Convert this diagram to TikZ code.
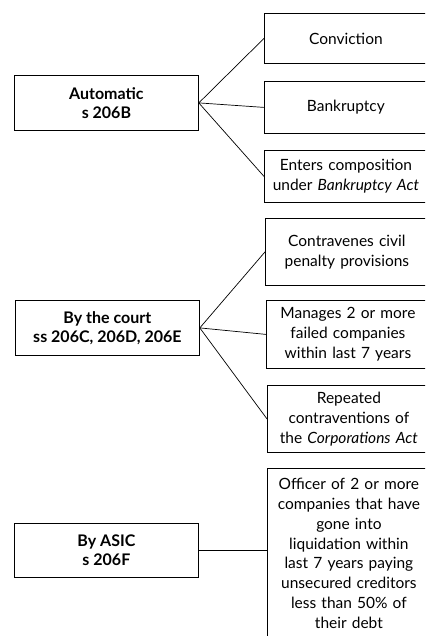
\documentclass[tikz,border=0pt]{standalone}
\usepackage{fontspec}
\setmainfont{Lato}

\tikzset{
  ground/.style={draw, line width=0.8pt, font=\bfseries\fontsize{16}{19}\selectfont, align=center, minimum width=184pt, minimum height=55pt, anchor=north west, inner sep=0pt},
  reason/.style={draw, line width=0.8pt, font=\fontsize{15.5}{19.8}\selectfont, align=center, text width=157pt, inner xsep=3pt, inner ysep=0pt, anchor=north west},
  link/.style={line width=0.7pt}
}

\begin{document}
\begin{tikzpicture}[x=1pt,y=-1pt]
\path[use as bounding box] (0,0) rectangle (425,636);
\clip (0,0) rectangle (425,636);
% grounds on the left
\node[ground] (auto) at (14,75) {Automatic\\s 206B};
\node[ground] (court) at (15,300) {By the court\\ss 206C, 206D, 206E};
\node[ground, minimum height=54pt] (asic) at (14,523) {By ASIC\\s 206F};
% reasons on the right
\node[reason, minimum height=50pt] (conv) at (264,13) {Conviction};
\node[reason, minimum height=52pt] (bankr) at (264,81) {Bankruptcy};
\node[reason, minimum height=52pt] (compo) at (264,150) {Enters composition\\under \textit{Bankruptcy Act}};
\node[reason, minimum height=67pt] (civil) at (265,218) {Contravenes civil\\penalty provisions};
\node[reason, minimum height=68pt] (failed) at (266,300) {Manages 2 or more\\failed companies\\within last 7 years};
\node[reason, minimum height=67pt] (repeat) at (267,385) {Repeated\\contraventions of\\the \textit{Corporations Act}};
\node[reason, minimum height=170pt] (officer) at (267,468) {Officer of 2 or more\\companies that have\\gone into\\liquidation within\\last 7 years paying\\unsecured creditors\\less than 50\% of\\their debt};
% links
\draw[link] (auto.east) -- (conv.west);
\draw[link] (auto.east) -- (bankr.west);
\draw[link] (auto.east) -- (compo.west);
\draw[link] (court.east) -- (civil.west);
\draw[link] (court.east) -- (failed.west);
\draw[link] (court.east) -- (repeat.west);
\draw[link] (asic.east) -- (asic.east -| officer.west);
\end{tikzpicture}
\end{document}
